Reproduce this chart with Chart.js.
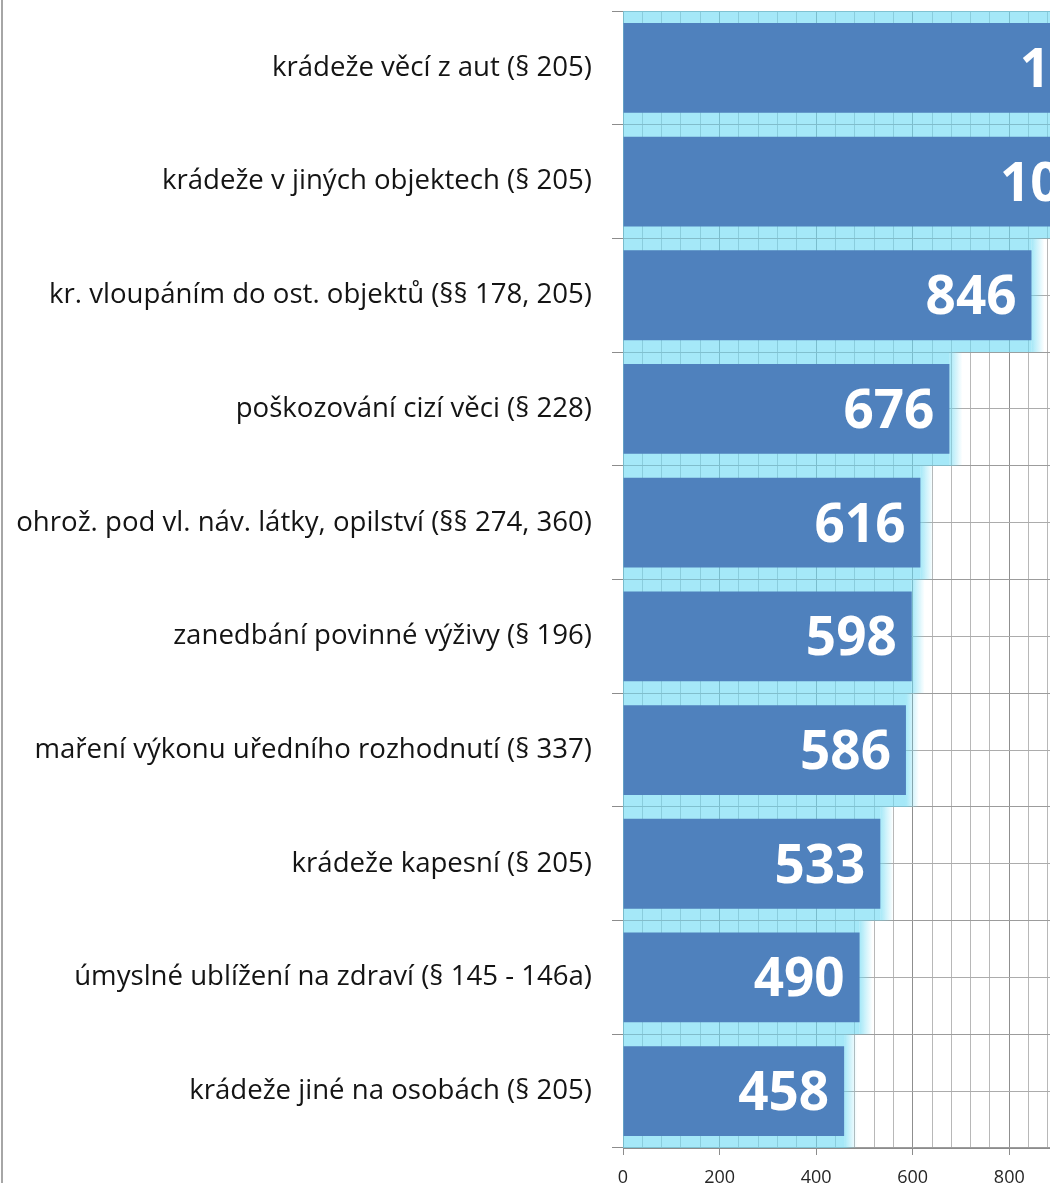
<!DOCTYPE html>
<html>
<head>
<meta charset="utf-8">
<script src="https://cdn.jsdelivr.net/npm/chart.js@4/dist/chart.umd.min.js"></script>
<style>
  html, body { margin: 0; padding: 0; overflow: hidden; background: #ffffff; }
  #wrap { position: absolute; left: 0; top: 0; }
</style>
</head>
<body>
<div id="wrap"><canvas id="c" width="1235" height="1200"></canvas></div>
<script>
const categories = [
  "krádeže věcí z aut (§ 205)",
  "krádeže v jiných objektech (§ 205)",
  "kr. vloupáním do ost. objektů (§§ 178, 205)",
  "poškozování cizí věci (§ 228)",
  "ohrož. pod vl. náv. látky, opilství (§§ 274, 360)",
  "zanedbání povinné výživy (§ 196)",
  "maření výkonu uředního rozhodnutí (§ 337)",
  "krádeže kapesní (§ 205)",
  "úmyslné ublížení na zdraví (§ 145 - 146a)",
  "krádeže jiné na osobách (§ 205)"
];
const values = [1104, 1063, 846, 676, 616, 598, 586, 533, 490, 458];
const xMin = 0;
const xMax = 1200;
const xMinorStep = 40;
const xMajorStep = 200;

const BAR = '#4f81bd';
const GLOW = 'rgba(110,218,243,0.62)';
const GLOW0 = 'rgba(110,218,243,0)';

const borderPlugin = {
  id: 'leftBorder',
  beforeDraw(chart) {
    const ctx = chart.ctx;
    ctx.save();
    ctx.fillStyle = '#a6a6a6';
    ctx.fillRect(1, 0, 2, chart.height);
    ctx.restore();
  }
};

const glowPlugin = {
  id: 'glow',
  beforeDatasetsDraw(chart) {
    const ctx = chart.ctx;
    const ca = chart.chartArea;
    const meta = chart.getDatasetMeta(0);
    const band = (ca.bottom - ca.top) / categories.length;
    const ext = 13;
    ctx.save();
    ctx.beginPath();
    ctx.rect(ca.left, ca.top, ca.right - ca.left, ca.bottom - ca.top);
    ctx.clip();
    meta.data.forEach(bar => {
      const top = bar.y - band / 2;
      ctx.fillStyle = GLOW;
      ctx.fillRect(ca.left, top, bar.x - ca.left, band);
      const g = ctx.createLinearGradient(bar.x, 0, bar.x + ext, 0);
      g.addColorStop(0, GLOW);
      g.addColorStop(1, GLOW0);
      ctx.fillStyle = g;
      ctx.fillRect(bar.x, top, ext, band);
    });
    ctx.restore();
  }
};

const valuePlugin = {
  id: 'values',
  afterDatasetsDraw(chart) {
    const ctx = chart.ctx;
    const meta = chart.getDatasetMeta(0);
    ctx.save();
    ctx.font = 'bold 53px "Open Sans"';
    ctx.fillStyle = '#ffffff';
    ctx.textAlign = 'right';
    ctx.textBaseline = 'alphabetic';
    meta.data.forEach((bar, i) => {
      ctx.fillText(String(values[i]), bar.x - 15, bar.y + 19);
    });
    ctx.restore();
  }
};

new Chart(document.getElementById('c'), {
  type: 'bar',
  data: {
    labels: categories,
    datasets: [{
      data: values,
      backgroundColor: BAR,
      borderWidth: 0,
      barPercentage: 0.79,
      categoryPercentage: 1
    }]
  },
  options: {
    indexAxis: 'y',
    responsive: false,
    animation: false,
    events: [],
    layout: { padding: { top: 11, left: 0, right: 30, bottom: 0 } },
    plugins: { legend: { display: false }, tooltip: { enabled: false } },
    scales: {
      x: {
        min: xMin,
        max: xMax,
        ticks: {
          stepSize: xMinorStep,
          autoSkip: false,
          maxRotation: 0,
          padding: 12,
          color: '#262626',
          font: { family: '"Open Sans"', size: 18 },
          callback: v => (v % xMajorStep === 0 ? String(v) : '')
        },
        grid: {
          color: c => (c.tick && c.tick.value % xMajorStep === 0 ? '#8f8f8f' : '#b8b8b8'),
          tickColor: c => (c.tick && c.tick.value % xMajorStep === 0 ? '#8c8c8c' : 'rgba(0,0,0,0)'),
          tickLength: 7
        },
        border: { color: '#8c8c8c' },
        afterFit: s => { s.height = 52; }
      },
      y: {
        ticks: {
          padding: 20,
          color: '#141414',
          font: { family: '"Open Sans"', size: 27.6 }
        },
        grid: { offset: true, tickLength: 11, color: '#9c9c9c', tickColor: '#8c8c8c' },
        border: { color: '#8c8c8c' },
        afterFit: s => { s.width = 623; s.paddingTop = 0; s.paddingBottom = 0; }
      },
      y2: {
        type: 'category',
        axis: 'y',
        labels: categories,
        position: 'right',
        offset: true,
        ticks: { display: false },
        grid: { offset: false, drawTicks: false, color: '#acacac' },
        border: { display: false },
        afterFit: s => { s.width = 0; s.paddingTop = 0; s.paddingBottom = 0; }
      }
    }
  },
  plugins: [borderPlugin, glowPlugin, valuePlugin]
});
</script>
</body>
</html>
